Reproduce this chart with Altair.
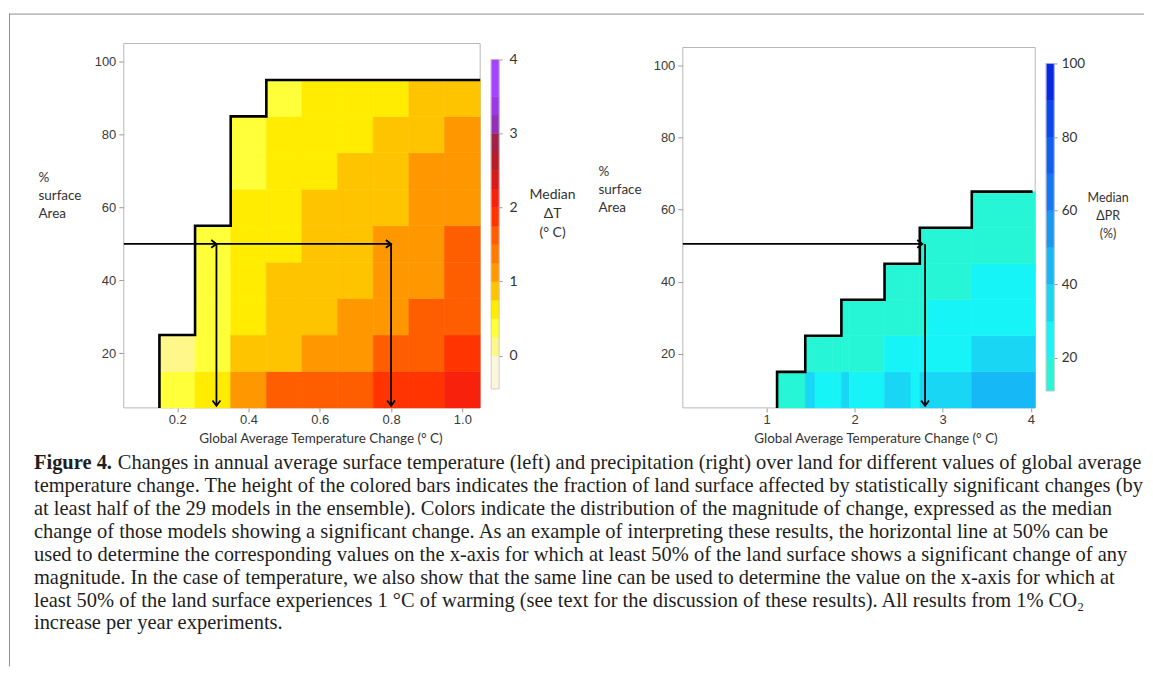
import altair as alt
import pandas as pd

# ---------------- values ----------------
# Temperature panel: bins of global warming (centres, degC) and rows of % land area
T_COL_CENTRES = [0.2, 0.3, 0.4, 0.5, 0.6, 0.7, 0.8, 0.9, 1.0]
T_COL_HALF = 0.05
ROW_EDGES = [5, 15, 25, 35, 45, 55, 65, 75, 85, 95]
# median dT in each cell, bottom row first
T_DT = [
    [0.4, 0.15],
    [0.6, 0.4, 0.4, 0.4, 0.4],
    [1.1, 0.9, 0.6, 0.6, 0.6, 0.6, 0.4, 0.4],
    [1.6, 0.9, 0.9, 0.9, 0.6, 0.6, 0.6, 0.6, 0.4],
    [1.6, 1.1, 0.9, 0.9, 0.9, 0.9, 0.6, 0.6, 0.6],
    [1.6, 1.1, 1.1, 0.9, 0.9, 0.9, 0.9, 0.6, 0.6],
    [1.85, 1.6, 1.1, 1.1, 1.1, 0.9, 0.9, 0.9, 0.6],
    [1.85, 1.6, 1.6, 1.1, 1.1, 1.1, 1.1, 0.9, 0.9],
    [2.05, 1.85, 1.6, 1.6, 1.6, 1.1, 1.1, 1.1, 0.9],
]

# Precipitation panel: irregular column edges (degC) and median dPR (%) per cell
P_COL_EDGES = [1.12, 1.44, 1.55, 1.75, 1.85, 1.94, 2.34, 2.64, 2.74, 2.83, 3.33, 4.05]
P_DPR = [
    [15],
    [35, 15],
    [25, 15],
    [25, 15],
    [35, 15, 15],
    [25, 15, 15],
    [35, 25, 15, 15],
    [25, 25, 15, 15],
    [35, 25, 15, 15, 15],
    [35, 25, 25, 15, 15],
    [45, 35, 25, 25, 15, 15],
]

# outline of the significant area
T_STEP_X = [0.15, 0.15, 0.25, 0.25, 0.35, 0.35, 0.45, 0.45, 1.05]
T_STEP_Y = [5, 25, 25, 55, 55, 85, 85, 95, 95]
P_STEP_X = [1.12, 1.12, 1.44, 1.44, 1.85, 1.85, 2.34, 2.34, 2.74, 2.74, 3.33, 3.33, 4.02]
P_STEP_Y = [5, 15, 15, 25, 25, 35, 35, 45, 45, 55, 55, 65, 65]

# 50 % reading arrows
T_LEVEL = 50
T_ARROW_X = [0.31, 0.80]
P_LEVEL = 50.5
P_ARROW_HX = 2.77
P_ARROW_VX = 2.80
ARROW_BOTTOM = 5.6

# colour bars
T_LEVELS = [-0.45, 0, 0.25, 0.5, 0.75, 1.0, 1.25, 1.5, 1.75, 2.0, 2.25, 2.5, 2.75, 3.0, 3.25, 3.5, 4.0]
T_COLORS = ["#fbf6dc", "#fff78a", "#ffff3a", "#ffec00", "#ffc400", "#ff9800", "#ff7a00",
            "#ff5e00", "#ff3400", "#f8220c", "#d81a18", "#b81c26", "#a02246", "#9430b8",
            "#9c38e6", "#a444ff"]
P_LEVELS = [11, 20, 30, 40, 50, 60, 70, 80, 90, 100]
P_COLORS = ["#26f6d6", "#16f4f8", "#18d6f4", "#16b8f6", "#1a98f0", "#1678f0", "#1060f0",
            "#0a48ee", "#0628e4"]

T_TICKS = [0.2, 0.4, 0.6, 0.8, 1.0]
P_TICKS = [1, 2, 3, 4]
Y_TICKS = [20, 40, 60, 80, 100]
T_CB_TICKS = [0, 1, 2, 3, 4]
P_CB_TICKS = [20, 40, 60, 80, 100]

X_TITLE = "Global Average Temperature Change (\u00b0 C)"
Y_TITLE = ["%", "surface", "Area"]
T_CB_TITLE = ["Median", "\u0394T", "(\u00b0 C)"]
P_CB_TITLE = ["Median", "\u0394PR", "(%)"]

CAPTION_BOLD = "Figure 4."
CAPTION_FIRST = ("Changes in annual average surface temperature (left) and precipitation (right) "
                 "over land for different values of global average")
CAPTION_REST = [
    "temperature change. The height of the colored bars indicates the fraction of land surface affected by statistically significant changes (by",
    "at least half of the 29 models in the ensemble). Colors indicate the distribution of the magnitude of change, expressed as the median",
    "change of those models showing a significant change. As an example of interpreting these results, the horizontal line at 50% can be",
    "used to determine the corresponding values on the x-axis for which at least 50% of the land surface shows a significant change of any",
    "magnitude. In the case of temperature, we also show that the same line can be used to determine the value on the x-axis for which at",
    "least 50% of the land surface experiences 1 \u00b0C of warming (see text for the discussion of these results). All results from 1% CO\u2082",
    "increase per year experiments.",
]

# ---------------- style ----------------
F_TICK = "Liberation Sans"
F_LAB = "Lato"
F_CAP = "Liberation Serif"
FRAME = "#b8b8b8"
TICKC = "#9a9a9a"
LABC = "#3a3a3a"
CAP_SIZE = 20.5
CAP_LH = 23
CAP_X = -90
CAP_Y = 426
CAP_DX = 84

RIGHT_HEAD = "M-1,-0.75L0,0L-1,0.75"
DOWN_HEAD = "M-0.75,-1L0,0L0.75,-1"

# ---------------- tables ----------------
trows = []
for c, vals in zip(T_COL_CENTRES, T_DT):
    for j, v in enumerate(vals):
        trows.append(dict(x0=c - T_COL_HALF, x1=c + T_COL_HALF, y0=ROW_EDGES[j], y1=ROW_EDGES[j + 1], dt=v))
tdf = pd.DataFrame(trows)

prows = []
for k, vals in enumerate(P_DPR):
    for j, v in enumerate(vals):
        prows.append(dict(x0=P_COL_EDGES[k], x1=P_COL_EDGES[k + 1], y0=ROW_EDGES[j], y1=ROW_EDGES[j + 1], dpr=v))
pdf = pd.DataFrame(prows)

t_out = pd.DataFrame({"x": T_STEP_X, "y": T_STEP_Y, "i": list(range(len(T_STEP_X)))})
p_out = pd.DataFrame({"x": P_STEP_X, "y": P_STEP_Y, "i": list(range(len(P_STEP_X)))})

T_XMIN, T_XMAX = 0.05, 1.05
P_XMIN, P_XMAX = 0.05, 4.05
Y_MIN, Y_MAX = 5, 105

t_seg = pd.DataFrame({
    "xa": [T_XMIN] + T_ARROW_X,
    "xb": [T_ARROW_X[-1]] + T_ARROW_X,
    "ya": [T_LEVEL] * 3,
    "yb": [T_LEVEL, ARROW_BOTTOM, ARROW_BOTTOM],
})
t_hr = pd.DataFrame({"x": T_ARROW_X, "y": [T_LEVEL] * len(T_ARROW_X)})
t_hd = pd.DataFrame({"x": T_ARROW_X, "y": [ARROW_BOTTOM] * len(T_ARROW_X)})

p_seg = pd.DataFrame({
    "xa": [P_XMIN, P_ARROW_VX],
    "xb": [P_ARROW_HX, P_ARROW_VX],
    "ya": [P_LEVEL, P_LEVEL],
    "yb": [P_LEVEL, ARROW_BOTTOM],
})
p_hr = pd.DataFrame({"x": [P_ARROW_HX], "y": [P_LEVEL]})
p_hd = pd.DataFrame({"x": [P_ARROW_VX], "y": [ARROW_BOTTOM]})

t_frame = pd.DataFrame({"x0": [T_XMIN], "x1": [T_XMAX], "y0": [Y_MIN], "y1": [Y_MAX]})
p_frame = pd.DataFrame({"x0": [P_XMIN], "x1": [P_XMAX], "y0": [Y_MIN], "y1": [Y_MAX]})

tcb = pd.DataFrame({"lo": T_LEVELS[:-1], "hi": T_LEVELS[1:]})
tcb["mid"] = (tcb["lo"] + tcb["hi"]) / 2
pcb = pd.DataFrame({"lo": P_LEVELS[:-1], "hi": P_LEVELS[1:]})
pcb["mid"] = (pcb["lo"] + pcb["hi"]) / 2

dummy = pd.DataFrame({"k": [0]})

# ---------------- scales & axes ----------------
tscale = alt.Scale(type="threshold", domain=T_LEVELS[1:-1], range=T_COLORS)
pscale = alt.Scale(type="threshold", domain=P_LEVELS[1:-1], range=P_COLORS)

W1, W2, H = 357, 353, 365
sx1 = alt.Scale(domain=[T_XMIN, T_XMAX], nice=False, zero=False)
sy1 = alt.Scale(domain=[Y_MIN, Y_MAX], nice=False, zero=False)
sx2 = alt.Scale(domain=[P_XMIN, P_XMAX], nice=False, zero=False)
sy2 = alt.Scale(domain=[Y_MIN, Y_MAX], range=[H, 4], nice=False, zero=False)


def xaxis(values, fmt, tx):
    return alt.Axis(values=values, format=fmt, title=X_TITLE, grid=False, domain=False,
                    tickSize=4, tickColor=TICKC, labelFont=F_TICK, labelFontSize=13,
                    labelColor=LABC, labelPadding=2, labelFlush=False, labelAngle=0,
                    titleFont=F_LAB, titleFontSize=13.5, titleFontWeight="normal",
                    titleColor="#333", titleX=tx, titleY=31, titleBaseline="middle",
                    titleAlign="center")


def yaxis(tx, ty):
    return alt.Axis(values=Y_TICKS, format="d", title=Y_TITLE, grid=False, domain=False,
                    tickSize=5, tickColor=TICKC, labelFont=F_TICK, labelFontSize=13,
                    labelColor=LABC, labelPadding=3, labelFlush=False, labelAngle=0,
                    titleAngle=0, titleAlign="left", titleBaseline="top", titleX=tx,
                    titleY=ty, titleLineHeight=18, titleFont=F_LAB, titleFontSize=13.5,
                    titleFontWeight="normal", titleColor="#333")


ax1 = xaxis(T_TICKS, ".1f", 197)
ay1 = yaxis(-86, 127)
ax2 = xaxis(P_TICKS, "d", 193)
ay2 = yaxis(-85, 121)


def panel(df, field, cscale, out, seg, hr, hd, frame, sx, sy, ax, ay):
    X = lambda f: alt.X(f, scale=sx, axis=ax)
    Y = lambda f: alt.Y(f, scale=sy, axis=ay)
    fr = alt.Chart(frame).mark_rect(filled=False, color=FRAME, strokeWidth=1).encode(
        x=X("x0:Q"), x2="x1:Q", y=Y("y0:Q"), y2="y1:Q")
    cells = alt.Chart(df).mark_rect(strokeWidth=0.6).encode(
        x=X("x0:Q"), x2="x1:Q", y=Y("y0:Q"), y2="y1:Q",
        color=alt.Color(field, scale=cscale, legend=None),
        stroke=alt.Stroke(field, scale=cscale, legend=None))
    line = alt.Chart(out).mark_line(color="black", strokeWidth=2.6).encode(
        x=X("x:Q"), y=Y("y:Q"), order="i:Q")
    arr = alt.Chart(seg).mark_rule(color="black", strokeWidth=1.8).encode(
        x=X("xa:Q"), x2="xb:Q", y=Y("ya:Q"), y2="yb:Q")
    h1 = alt.Chart(hr).mark_point(shape=RIGHT_HEAD, filled=False, size=110, color="black",
                                  strokeWidth=1.8, opacity=1).encode(x=X("x:Q"), y=Y("y:Q"))
    h2 = alt.Chart(hd).mark_point(shape=DOWN_HEAD, filled=False, size=110, color="black",
                                  strokeWidth=1.8, opacity=1).encode(x=X("x:Q"), y=Y("y:Q"))
    return [fr, cells, line, arr, h1, h2]


layers1 = panel(tdf, "dt:Q", tscale, t_out, t_seg, t_hr, t_hd, t_frame, sx1, sy1, ax1, ay1)
layers2 = panel(pdf, "dpr:Q", pscale, p_out, p_seg, p_hr, p_hd, p_frame, sx2, sy2, ax2, ay2)

# caption and figure frame (annotation, placed in pixels relative to the left panel)
cap_bold = alt.Chart(dummy).mark_text(text=CAPTION_BOLD, align="left", baseline="alphabetic",
                                      font=F_CAP, fontSize=CAP_SIZE, fontWeight="bold",
                                      color="#1e1e1e").encode(x=alt.value(CAP_X), y=alt.value(CAP_Y))
cap_first = alt.Chart(dummy).mark_text(text=CAPTION_FIRST, align="left", baseline="alphabetic",
                                       font=F_CAP, fontSize=CAP_SIZE, color="#1e1e1e",
                                       dx=CAP_DX).encode(x=alt.value(CAP_X), y=alt.value(CAP_Y))
cap_rest = alt.Chart(dummy).mark_text(text=CAPTION_REST, align="left", baseline="alphabetic",
                                      font=F_CAP, fontSize=CAP_SIZE, color="#1e1e1e",
                                      lineHeight=CAP_LH).encode(x=alt.value(CAP_X),
                                                                y=alt.value(CAP_Y + CAP_LH))
frame_v = alt.Chart(dummy).mark_rule(color="#8c8c8c", strokeWidth=1).encode(
    x=alt.value(-114.5), y=alt.value(-30), y2=alt.value(624))
frame_h = alt.Chart(dummy).mark_rule(color="#8c8c8c", strokeWidth=1).encode(
    x=alt.value(-115), x2=alt.value(1022), y=alt.value(-29.5))

main1 = alt.layer(*layers1, cap_bold, cap_first, cap_rest, frame_v, frame_h).properties(width=W1, height=H)
main2 = alt.layer(*layers2).properties(width=W2, height=H)


def colorbar(df, cscale, dom, rng, ticks, title, pad, tx, ty, lh, tsize, lsize, width):
    ax = alt.Axis(orient="right", values=ticks, format="d", grid=False, domain=False, tickSize=3,
                  tickColor=TICKC, labelFont=F_LAB, labelFontSize=lsize, labelColor="#333",
                  labelPadding=pad, labelFlush=False, labelAngle=0, labelAlign="left",
                  labelBaseline="middle", title=title, titleAngle=0,
                  titleAlign="center", titleBaseline="top", titleX=tx, titleY=ty,
                  titleLineHeight=lh, titleFont=F_LAB, titleFontSize=tsize,
                  titleFontWeight="normal", titleColor="#333")
    sy = alt.Scale(domain=dom, range=rng, nice=False, zero=False)
    bars = alt.Chart(df).mark_rect(strokeWidth=0.5).encode(
        x=alt.value(0), x2=alt.value(width),
        y=alt.Y("lo:Q", scale=sy, axis=ax), y2="hi:Q",
        color=alt.Color("mid:Q", scale=cscale, legend=None),
        stroke=alt.Stroke("mid:Q", scale=cscale, legend=None))
    border = alt.Chart(pd.DataFrame({"lo": [dom[0]], "hi": [dom[1]]})).mark_rect(
        filled=False, color="#c4c4c4", strokeWidth=0.8).encode(
        x=alt.value(0), x2=alt.value(width), y=alt.Y("lo:Q", scale=sy, axis=ax), y2="hi:Q")
    return alt.layer(bars, border).properties(width=width, height=H)


cb1 = colorbar(tcb, tscale, [T_LEVELS[0], T_LEVELS[-1]], [346, 16], T_CB_TICKS, T_CB_TITLE,
               7, 53, 144, 19, 14, 14, 8)
cb2 = colorbar(pcb, pscale, [P_LEVELS[0], P_LEVELS[-1]], [348, 20], P_CB_TICKS, P_CB_TITLE,
               4, 53.5, 148, 18, 12.5, 13.5, 8)

spacer = alt.Chart(dummy).mark_point(opacity=0).encode(
    x=alt.value(0), y=alt.value(0)).properties(width=162, height=H)

chart = alt.hconcat(
    main1, cb1, spacer, main2, cb2,
    spacing=11, bounds="flush",
    padding={"left": 0, "top": 4, "right": 0, "bottom": 0},
).resolve_scale(color="independent", stroke="independent").configure_view(stroke=None)

chart.save("out.html", embed_options={"renderer": "svg", "actions": False})
